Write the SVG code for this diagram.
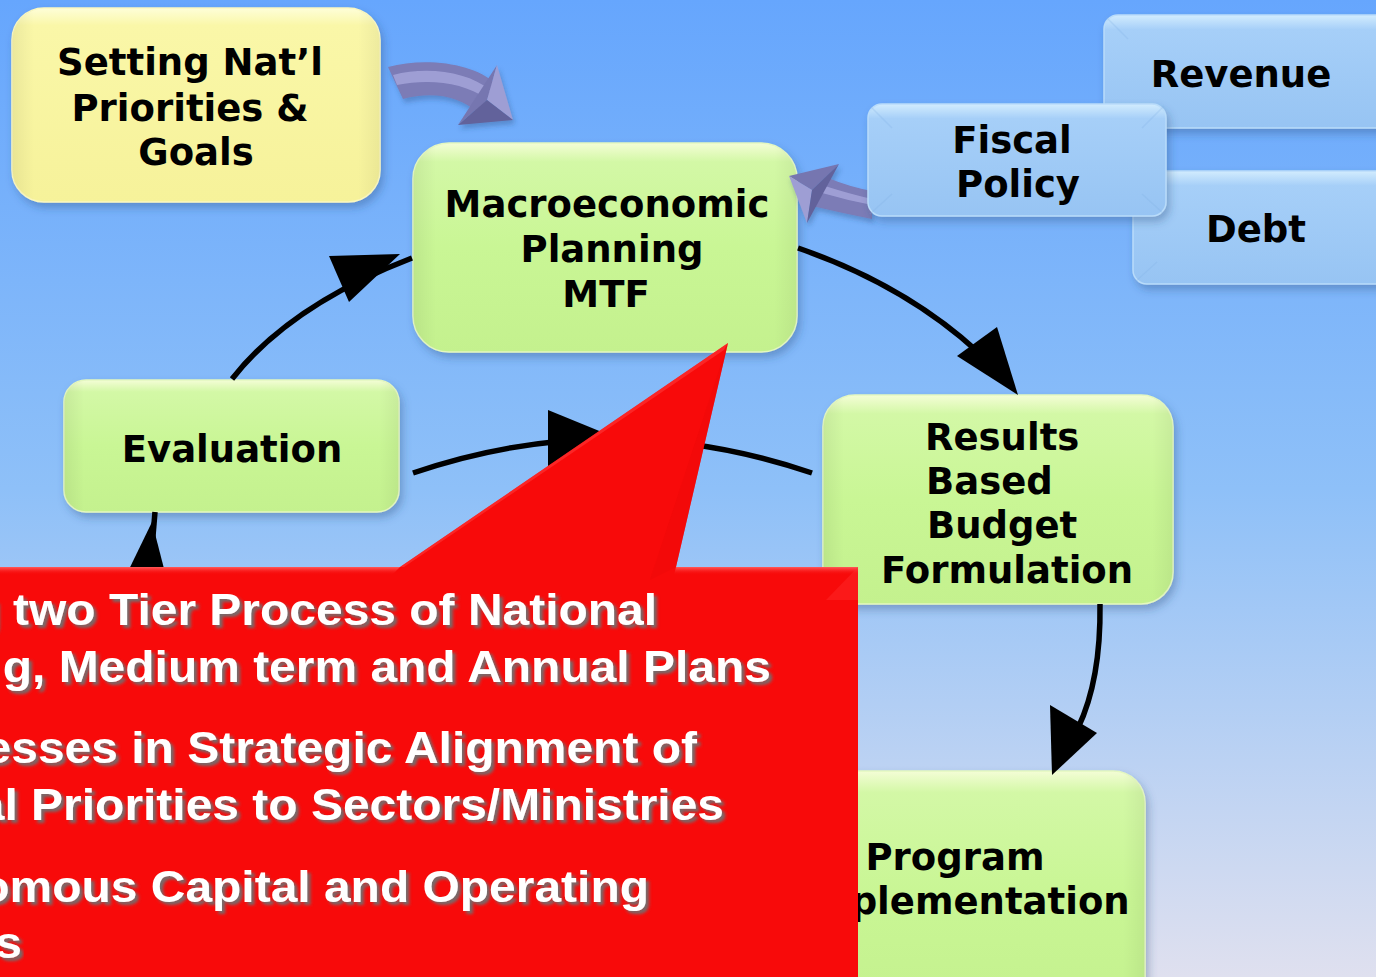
<svg xmlns="http://www.w3.org/2000/svg" width="1376" height="977" viewBox="0 0 1376 977">
<defs>
  <linearGradient id="bg" x1="0" y1="0" x2="0" y2="1">
    <stop offset="0" stop-color="#66a6fd"/>
    <stop offset="0.5" stop-color="#8ec0f8"/>
    <stop offset="1" stop-color="#dfe0ef"/>
  </linearGradient>
  <linearGradient id="gGreen" x1="0" y1="0" x2="0" y2="1">
    <stop offset="0" stop-color="#f4fdd6"/>
    <stop offset="0.09" stop-color="#d3f8a6"/>
    <stop offset="0.5" stop-color="#c9f695"/>
    <stop offset="1" stop-color="#c4f18e"/>
  </linearGradient>
  <linearGradient id="gYellow" x1="0" y1="0" x2="0" y2="1">
    <stop offset="0" stop-color="#fefed8"/>
    <stop offset="0.09" stop-color="#faf7a8"/>
    <stop offset="1" stop-color="#f6f29a"/>
  </linearGradient>
  <linearGradient id="gBlue" x1="0" y1="0" x2="0" y2="1">
    <stop offset="0" stop-color="#d2ecfe"/>
    <stop offset="0.13" stop-color="#a6cff8"/>
    <stop offset="1" stop-color="#97c4f3"/>
  </linearGradient>
  <linearGradient id="gEdge" x1="0" y1="0" x2="1" y2="0">
    <stop offset="0" stop-color="#000" stop-opacity="0.06"/>
    <stop offset="0.06" stop-color="#000" stop-opacity="0"/>
    <stop offset="0.94" stop-color="#000" stop-opacity="0"/>
    <stop offset="1" stop-color="#000" stop-opacity="0.05"/>
  </linearGradient>
  <linearGradient id="gRedTop" x1="0" y1="0" x2="0" y2="1">
    <stop offset="0" stop-color="#ff5a5a"/>
    <stop offset="1" stop-color="#f80a0a" stop-opacity="0"/>
  </linearGradient>
  <filter id="shadow" x="-10%" y="-10%" width="120%" height="130%">
    <feDropShadow dx="3" dy="5" stdDeviation="4" flood-color="#2c4a7a" flood-opacity="0.35"/>
  </filter>
  <filter id="pshadow" x="-20%" y="-20%" width="150%" height="160%">
    <feDropShadow dx="2" dy="4" stdDeviation="2.5" flood-color="#2c4a7a" flood-opacity="0.35"/>
  </filter>
  <filter id="tshadow" x="-5%" y="-20%" width="110%" height="150%">
    <feDropShadow dx="3" dy="3" stdDeviation="1.6" flood-color="#707070" flood-opacity="0.95"/>
  </filter>
  <style>
    .lbl { font-family: "DejaVu Sans", Verdana, sans-serif; font-weight: bold; font-size: 37px; fill: #000; }
    .mid { text-anchor: middle; }
    .green { fill: url(#gGreen); stroke: #e4f8c0; stroke-width: 1.5; filter: url(#shadow); }
    .yellow { fill: url(#gYellow); stroke: #fbf8c0; stroke-width: 1.5; filter: url(#shadow); }
    .blue { fill: url(#gBlue); stroke: #b9dcfa; stroke-width: 1.5; filter: url(#shadow); }
    .edge { fill: url(#gEdge); }
    .bevel { stroke: #7fb0e4; stroke-opacity: 0.25; stroke-width: 1.5; fill: none; }
    .conn { fill: none; stroke: #000; stroke-width: 5.5; }
    .head { fill: #000; }
    .pShaft { fill: #7b7bb6; }
    .pHi { fill: #9e9ed4; }
    .pDark { fill: #62629b; }
    .pMid { fill: #7676b0; }
    .callTxt { font-family: "Liberation Sans", Arial, sans-serif; font-weight: bold; font-size: 44px; fill: #fff; text-anchor: end; filter: url(#tshadow); }
  </style>
</defs>

<rect x="0" y="0" width="1376" height="977" fill="url(#bg)"/>

<g id="node-setting">
  <rect class="yellow" x="12" y="8" width="368" height="194" rx="32"/>
  <rect class="edge" x="12" y="8" width="368" height="194" rx="32"/>
  <text class="lbl mid" x="190" y="75">Setting Nat’l</text>
  <text class="lbl mid" x="190" y="121">Priorities &amp;</text>
  <text class="lbl mid" x="196" y="165">Goals</text>
</g>

<g id="node-macro">
  <rect class="green" x="413" y="143" width="384" height="209" rx="36"/>
  <rect class="edge" x="413" y="143" width="384" height="209" rx="36"/>
  <text class="lbl mid" x="607" y="217">Macroeconomic</text>
  <text class="lbl mid" x="612" y="262">Planning</text>
  <text class="lbl mid" x="606" y="307">MTF</text>
</g>

<g id="node-evaluation">
  <rect class="green" x="64" y="380" width="335" height="132" rx="22"/>
  <rect class="edge" x="64" y="380" width="335" height="132" rx="22"/>
  <text class="lbl mid" x="232" y="462">Evaluation</text>
</g>

<g id="node-results">
  <rect class="green" x="823" y="395" width="350" height="209" rx="32"/>
  <rect class="edge" x="823" y="395" width="350" height="209" rx="32"/>
  <text class="lbl" x="925" y="450">Results</text>
  <text class="lbl" x="926" y="494">Based</text>
  <text class="lbl" x="927" y="538">Budget</text>
  <text class="lbl" x="881" y="583">Formulation</text>
</g>

<g id="node-program">
  <rect class="green" x="781" y="771" width="364" height="240" rx="32"/>
  <rect class="edge" x="781" y="771" width="364" height="240" rx="32"/>
  <text class="lbl mid" x="955" y="870">Program</text>
  <text class="lbl mid" x="964" y="914">Implementation</text>
</g>

<g id="connectors">
  <!-- Macro -> Results -->
  <path class="conn" d="M798,248 Q905,285 978,352"/>
  <polygon class="head" points="957,356 997,327 1018,395"/>
  <!-- Results -> Program -->
  <path class="conn" d="M1100,604 Q1101,680 1078,728"/>
  <polygon class="head" points="1050,705 1097,733 1052,775"/>
  <!-- Evaluation -> Macro -->
  <path class="conn" d="M232,379 Q290,305 412,258"/>
  <polygon class="head" points="329,256 400,254 349,302"/>
  <!-- Evaluation - Results arc -->
  <path class="conn" d="M413,473 Q612,405 812,473"/>
  <polygon class="head" points="548,410 548,468 614,437"/>
  <!-- lower arrow into Evaluation -->
  <path class="conn" d="M155,512 L151,560"/>
  <polygon class="head" points="152,522 118,592 170,592"/>

  <!-- purple: Setting -> Macro -->
  <g id="purple-1" filter="url(#pshadow)">
    <path class="pShaft" d="M388,67 C425,57 474,63 496,84 L478,113 C460,96 432,91 403,99 Z"/>
    <path class="pHi" d="M393,75 C428,66 468,72 490,90 L486,98 C464,83 430,78 397,85 Z"/>
    <polygon class="pMid" points="497,65 458,125 487,100"/>
    <polygon class="pHi" points="497,65 487,100 513,120"/>
    <polygon class="pDark" points="458,125 487,100 513,120"/>
  </g>
  <!-- purple: Fiscal -> Macro -->
  <g id="purple-2" filter="url(#pshadow)">
    <path class="pShaft" d="M828,178 Q850,187 872,191 L872,219 Q842,213 812,206 Z"/>
    <path class="pHi" d="M825,186 Q850,194 872,199 L872,205 Q846,200 822,193 Z"/>
    <polygon class="pMid" points="789,176 839,164 812,190"/>
    <polygon class="pHi" points="789,176 812,190 807,223"/>
    <polygon class="pDark" points="812,190 839,164 807,223"/>
  </g>
</g>

<g id="node-revenue">
  <rect class="blue" x="1104" y="15" width="300" height="113" rx="14"/>
  <path class="bevel" d="M1106,17 L1128,39 M1128,106 L1106,126"/>
  <text class="lbl mid" x="1241" y="87">Revenue</text>
</g>

<g id="node-debt">
  <rect class="blue" x="1133" y="171" width="270" height="113" rx="14"/>
  <path class="bevel" d="M1135,173 L1157,195 M1157,262 L1135,282"/>
  <text class="lbl mid" x="1256" y="242">Debt</text>
</g>

<g id="node-fiscal">
  <rect class="blue" x="868" y="104" width="298" height="112" rx="14"/>
  <path class="bevel" d="M870,106 L892,128 M892,194 L870,214 M1164,106 L1142,128 M1142,194 L1164,214"/>
  <text class="lbl mid" x="1012" y="153">Fiscal</text>
  <text class="lbl mid" x="1018" y="197">Policy</text>
</g>

<g id="callout">
  <path d="M-10,567 L400,567 L728,343 L676,567 L858,567 L858,990 L-10,990 Z" fill="#f80a0a"/>
  <polygon points="728,343 676,567 650,580" fill="#ee0707" opacity="0.5"/>
  <path d="M-10,567 L400,567 L392,575 L-10,575 Z" fill="url(#gRedTop)"/>
  <path d="M676,567 L858,567 L858,575 L674,575 Z" fill="url(#gRedTop)"/>
  <path d="M400,567 L728,343 L724,350 L404,567 Z" fill="#ff4040" opacity="0.5"/>
  <polygon points="858,567 858,600 826,600" fill="#ff3030" opacity="0.4"/>
  <g transform="scale(1.09,1)">
    <text class="callTxt" x="602.8" y="625">g two Tier Process of National</text>
    <text class="callTxt" x="707.3" y="682">g, Medium term and Annual Plans</text>
    <text class="callTxt" x="639.4" y="763">esses in Strategic Alignment of</text>
    <text class="callTxt" x="664.2" y="820">al Priorities to Sectors/Ministries</text>
    <text class="callTxt" x="595.4" y="902">omous Capital and Operating</text>
    <text class="callTxt" x="20.2" y="958">s</text>
  </g>
</g>
</svg>
